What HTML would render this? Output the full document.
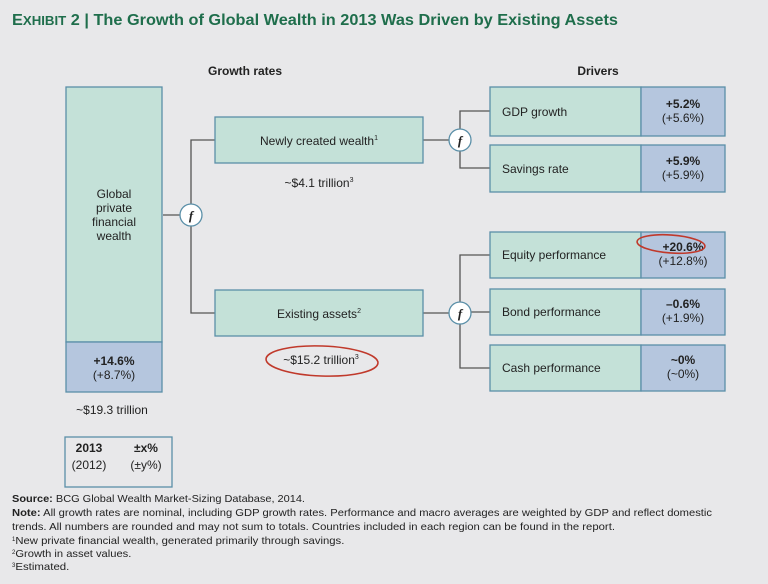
<!DOCTYPE html>
<html><head><meta charset="utf-8"><style>
body{margin:0;background:#e8e8ea;}
svg{display:block;font-family:"Liberation Sans",sans-serif;}
</style></head><body>
<svg width="768" height="584" viewBox="0 0 768 584">
<rect width="768" height="584" fill="#e8e8ea"/>
<text x="12" y="25" font-size="16" font-weight="bold" fill="#1f6e4c" textLength="606" lengthAdjust="spacingAndGlyphs">E<tspan font-size="13">XHIBIT</tspan> 2 | The Growth of Global Wealth in 2013 Was Driven by Existing Assets</text>
<text x="245" y="75" font-size="12" font-weight="bold" text-anchor="middle" fill="#222">Growth rates</text>
<text x="598" y="75" font-size="12" font-weight="bold" text-anchor="middle" fill="#222">Drivers</text>

<g stroke="#555" stroke-width="1.3" fill="none">
<line x1="163" y1="215" x2="180" y2="215"/>
<path d="M215 140 H191 V313 H215"/>
<line x1="423" y1="140" x2="449" y2="140"/>
<line x1="423" y1="313" x2="449" y2="313"/>
<path d="M490 111 H460 V168 H490"/>
<path d="M490 255 H460 V368 H490"/>
<line x1="460" y1="312" x2="490" y2="312"/>
</g>

<g>
<rect x="66" y="87" width="96" height="255" fill="#c4e1d8" stroke="#5a8fa8" stroke-width="1.3"/>
<rect x="66" y="342" width="96" height="50" fill="#b5c6de" stroke="#5a8fa8" stroke-width="1.3"/>
<text font-size="12" text-anchor="middle" fill="#222"><tspan x="114" y="198">Global</tspan><tspan x="114" y="212">private</tspan><tspan x="114" y="226">financial</tspan><tspan x="114" y="240">wealth</tspan></text>
<text x="114" y="365" font-size="12" font-weight="bold" text-anchor="middle" fill="#222">+14.6%</text>
<text x="114" y="379" font-size="12" text-anchor="middle" fill="#222">(+8.7%)</text>
</g>
<text x="112" y="414" font-size="12" text-anchor="middle" fill="#222">~$19.3 trillion</text>

<g>
<rect x="65" y="437" width="107" height="50" fill="none" stroke="#5a8fa8" stroke-width="1.3"/>
<text x="89" y="452" font-size="12" font-weight="bold" text-anchor="middle" fill="#222">2013</text>
<text x="89" y="469" font-size="12" text-anchor="middle" fill="#222">(2012)</text>
<text x="146" y="452" font-size="12" font-weight="bold" text-anchor="middle" fill="#222">±x%</text>
<text x="146" y="469" font-size="12" text-anchor="middle" fill="#222">(±y%)</text>
</g>

<g fill="#fff" stroke="#5a8fa8" stroke-width="1.3">
<circle cx="191" cy="215" r="11"/><circle cx="460" cy="140" r="11"/><circle cx="460" cy="313" r="11"/>
</g>
<g font-family="Liberation Serif,serif" font-style="italic" font-weight="bold" font-size="13" text-anchor="middle" fill="#222">
<text x="191" y="220">f</text><text x="460" y="145">f</text><text x="460" y="318">f</text>
</g>

<g>
<rect x="215" y="117" width="208" height="46" fill="#c4e1d8" stroke="#5a8fa8" stroke-width="1.3"/>
<text x="319" y="145" font-size="12" text-anchor="middle" fill="#222">Newly created wealth<tspan font-size="7" dy="-5">1</tspan></text>
</g>
<text x="319" y="187" font-size="12" text-anchor="middle" fill="#222">~$4.1 trillion<tspan font-size="7" dy="-5">3</tspan></text>

<g>
<rect x="215" y="290" width="208" height="46" fill="#c4e1d8" stroke="#5a8fa8" stroke-width="1.3"/>
<text x="319" y="318" font-size="12" text-anchor="middle" fill="#222">Existing assets<tspan font-size="7" dy="-5">2</tspan></text>
</g>
<text x="321" y="364" font-size="12" text-anchor="middle" fill="#222">~$15.2 trillion<tspan font-size="7" dy="-5">3</tspan></text>
<ellipse cx="322" cy="361" rx="56" ry="15" fill="none" stroke="#c0392b" stroke-width="1.6" transform="rotate(2 322 361)"/>

<g>
<g><rect x="490" y="87" width="151" height="49" fill="#c4e1d8" stroke="#5a8fa8" stroke-width="1.3"/><rect x="641" y="87" width="84" height="49" fill="#b5c6de" stroke="#5a8fa8" stroke-width="1.3"/>
<text x="502" y="116" font-size="12" fill="#222">GDP growth</text><text x="683" y="108" font-size="12" font-weight="bold" text-anchor="middle" fill="#222">+5.2%</text><text x="683" y="122" font-size="12" text-anchor="middle" fill="#222">(+5.6%)</text></g>
<g><rect x="490" y="145" width="151" height="47" fill="#c4e1d8" stroke="#5a8fa8" stroke-width="1.3"/><rect x="641" y="145" width="84" height="47" fill="#b5c6de" stroke="#5a8fa8" stroke-width="1.3"/>
<text x="502" y="173" font-size="12" fill="#222">Savings rate</text><text x="683" y="165" font-size="12" font-weight="bold" text-anchor="middle" fill="#222">+5.9%</text><text x="683" y="179" font-size="12" text-anchor="middle" fill="#222">(+5.9%)</text></g>
<g><rect x="490" y="232" width="151" height="46" fill="#c4e1d8" stroke="#5a8fa8" stroke-width="1.3"/><rect x="641" y="232" width="84" height="46" fill="#b5c6de" stroke="#5a8fa8" stroke-width="1.3"/>
<text x="502" y="259" font-size="12" fill="#222">Equity performance</text><text x="683" y="251" font-size="12" font-weight="bold" text-anchor="middle" fill="#222">+20.6%</text><text x="683" y="265" font-size="12" text-anchor="middle" fill="#222">(+12.8%)</text></g>
<g><rect x="490" y="289" width="151" height="46" fill="#c4e1d8" stroke="#5a8fa8" stroke-width="1.3"/><rect x="641" y="289" width="84" height="46" fill="#b5c6de" stroke="#5a8fa8" stroke-width="1.3"/>
<text x="502" y="316" font-size="12" fill="#222">Bond performance</text><text x="683" y="308" font-size="12" font-weight="bold" text-anchor="middle" fill="#222">–0.6%</text><text x="683" y="322" font-size="12" text-anchor="middle" fill="#222">(+1.9%)</text></g>
<g><rect x="490" y="345" width="151" height="46" fill="#c4e1d8" stroke="#5a8fa8" stroke-width="1.3"/><rect x="641" y="345" width="84" height="46" fill="#b5c6de" stroke="#5a8fa8" stroke-width="1.3"/>
<text x="502" y="372" font-size="12" fill="#222">Cash performance</text><text x="683" y="364" font-size="12" font-weight="bold" text-anchor="middle" fill="#222">~0%</text><text x="683" y="378" font-size="12" text-anchor="middle" fill="#222">(~0%)</text></g>
</g>
<ellipse cx="671" cy="244" rx="34" ry="9" fill="none" stroke="#c0392b" stroke-width="1.6" transform="rotate(4 671 244)"/>

<g font-size="10.5" fill="#222">
<text x="12" y="502" textLength="293" lengthAdjust="spacingAndGlyphs"><tspan font-weight="bold">Source:</tspan> BCG Global Wealth Market-Sizing Database, 2014.</text>
<text x="12" y="516" textLength="700" lengthAdjust="spacingAndGlyphs"><tspan font-weight="bold">Note:</tspan> All growth rates are nominal, including GDP growth rates. Performance and macro averages are weighted by GDP and reflect domestic</text>
<text x="12" y="530" textLength="603" lengthAdjust="spacingAndGlyphs">trends. All numbers are rounded and may not sum to totals. Countries included in each region can be found in the report.</text>
<text x="12" y="544"><tspan font-size="6" dy="-3">1</tspan><tspan dy="3" textLength="329" lengthAdjust="spacingAndGlyphs">New private financial wealth, generated primarily through savings.</tspan></text>
<text x="12" y="557"><tspan font-size="6" dy="-3">2</tspan><tspan dy="3" textLength="116" lengthAdjust="spacingAndGlyphs">Growth in asset values.</tspan></text>
<text x="12" y="570"><tspan font-size="6" dy="-3">3</tspan><tspan dy="3" textLength="54" lengthAdjust="spacingAndGlyphs">Estimated.</tspan></text>
</g>
</svg>
</body></html>
